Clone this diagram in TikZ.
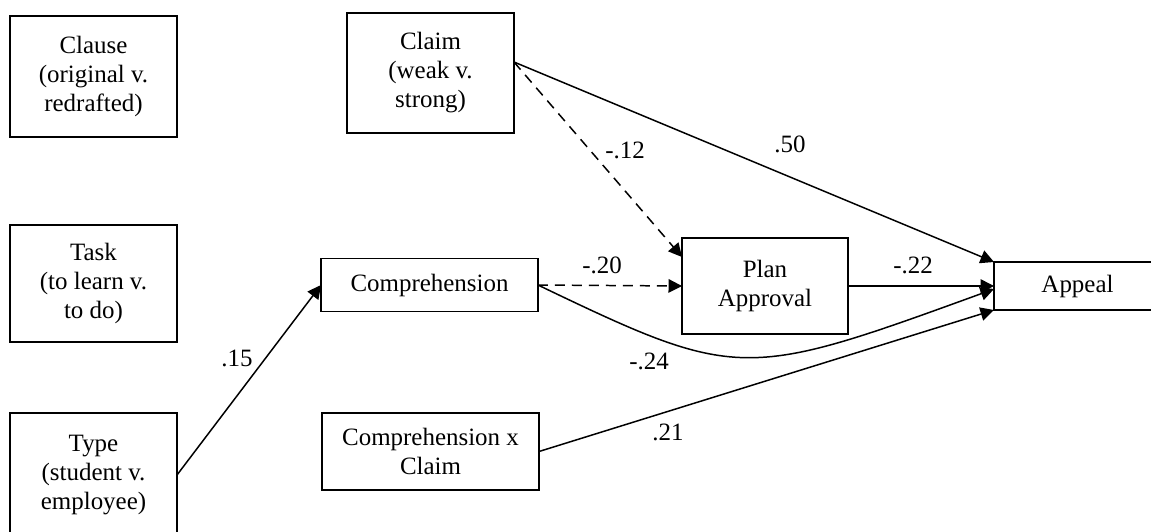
\documentclass[tikz,border=0pt]{standalone}
\usepackage{fontspec}
\setmainfont{Liberation Serif}
\usetikzlibrary{arrows.meta}

\begin{document}
\begin{tikzpicture}[x=0.02cm, y=-0.02cm,
    font=\fontsize{14.2}{16.5}\selectfont,
    box/.style={draw, line width=0.9pt, align=center, outer sep=0pt, inner sep=2pt},
    path/.style={line width=0.85pt, -{Triangle[length=0.27cm, width=0.27cm]}},
    weak/.style={path, dash pattern=on 0.2cm off 0.14cm}]
    \useasboundingbox (0,0) rectangle (1151,531);
    \node[box, minimum width=3.34cm, minimum height=2.42cm] (clause) at (93.5,76.5) {Clause\\(original v.\\redrafted)};
    \node[box, minimum width=3.34cm, minimum height=2.34cm] (task) at (93.5,283.5) {Task\\(to learn v.\\to do)};
    \node[box, minimum width=3.34cm, minimum height=2.48cm] (type) at (93.5,475) {Type\\(student v.\\employee)};
    \node[box, minimum width=3.34cm, minimum height=2.4cm] (claim) at (430.5,73) {Claim\\(weak v.\\strong)};
    \node[box, minimum width=4.34cm, minimum height=1.06cm] (comp) at (429.5,285) {Comprehension};
    \node[box, minimum width=4.34cm, minimum height=1.54cm] (compclaim) at (430.5,451.5) {Comprehension x\\Claim};
    \node[box, minimum width=3.32cm, minimum height=1.92cm] (plan) at (765,286) {Plan\\Approval};
    \node[box, minimum width=3.34cm, minimum height=0.96cm] (appeal) at (1077.5,286) {Appeal};
    \draw[path] (type.east) -- (comp.west);
    \draw[weak] ([yshift=0.22cm]claim.east) -- ([yshift=0.58cm]plan.west);
    \draw[path] ([yshift=0.22cm]claim.east) -- (appeal.north west);
    \draw[weak] (comp.east) -- (plan.west);
    \draw[path] (plan.east) -- (appeal.west);
    \draw[path] (comp.east) .. controls (738,381) and (744,380) .. ([yshift=-0.06cm]appeal.west);
    \draw[path] (compclaim.east) -- (appeal.south west);
    \node (l15) at (237,358) {.15};
    \node (l12) at (625,150) {-.12};
    \node (l50) at (790,144) {.50};
    \node (l20) at (602,265) {-.20};
    \node (l22) at (913,265) {-.22};
    \node (l24) at (649,361) {-.24};
    \node (l21) at (668,432) {.21};
\end{tikzpicture}
\end{document}
